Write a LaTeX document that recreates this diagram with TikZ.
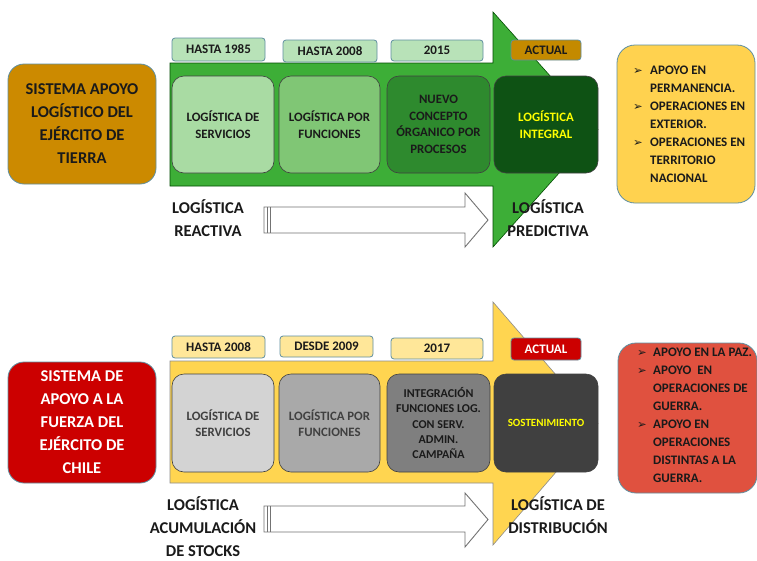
\documentclass[tikz,border=0pt]{standalone}
\usepackage{fontspec}
\setmainfont{Carlito}
\newfontfamily\dv{DejaVu Sans}
\definecolor{orgbox}{HTML}{CC8A00}
\definecolor{garrow}{HTML}{3DAE37}
\definecolor{gtab}{HTML}{B8E2B8}
\definecolor{gone}{HTML}{A9DBA3}
\definecolor{gtwo}{HTML}{80C675}
\definecolor{gthree}{HTML}{2E8A2E}
\definecolor{gfour}{HTML}{0E5214}
\definecolor{actorg}{HTML}{C48A00}
\definecolor{ybox}{HTML}{FFD24F}
\definecolor{yarrow}{HTML}{FFD550}
\definecolor{ytab}{HTML}{FFE799}
\definecolor{redbox}{HTML}{CC0000}
\definecolor{rbox}{HTML}{E0513F}
\definecolor{kone}{HTML}{D3D3D3}
\definecolor{ktwo}{HTML}{A9A9A9}
\definecolor{kthree}{HTML}{7F7F7F}
\definecolor{kfour}{HTML}{404040}
\definecolor{tabedge}{HTML}{5F8FA0}
\definecolor{txt}{HTML}{1A1A1A}
\definecolor{ylw}{HTML}{FFFF00}
\newcommand{\blt}[1]{\makebox[#1][l]{\dv\fontsize{11.5}{18}\selectfont ➢}}
\begin{document}
\begin{tikzpicture}[x=1pt,y=-1pt,
  tabbox/.style={draw=tabedge, line width=0.8pt, rounded corners=3pt, inner sep=0pt, text=txt, font=\fontsize{13}{15}\selectfont\bfseries},
  inbox/.style={draw=black!75, line width=0.6pt, rounded corners=12pt, inner sep=0pt, minimum height=97pt, align=center, text=txt, font=\fontsize{12.8}{16.5}\selectfont\bfseries},
  sysbox/.style={draw=tabedge, line width=0.8pt, rounded corners=16pt, inner sep=0pt, minimum width=148pt, align=center, font=\fontsize{16.5}{23}\selectfont\bfseries},
  biglabel/.style={align=center, inner sep=0pt, text=txt, font=\fontsize{16.5}{23}\selectfont\bfseries},
  listbox/.style={draw=tabedge, line width=0.8pt, rounded corners=18pt, inner sep=0pt, text=txt},
  listtext/.style={align=left, inner sep=0pt, text=txt, font=\fontsize{13}{18}\selectfont\bfseries},
  warrow/.style={draw=black!55, line width=0.9pt, fill=white}
]
\useasboundingbox (0,0) rectangle (757,560);
\fill[white] (0,0) rectangle (757,560);

% ===== TOP =====
\filldraw[fill=garrow, draw=green!30!black, line width=0.6pt]
  (170,63) -- (493,63) -- (493,12) -- (598,129.5) -- (493,247) -- (493,186) -- (170,186) -- cycle;

\node[sysbox, fill=orgbox, minimum height=120pt, text=txt] (sysA) at (82,124) {SISTEMA APOYO\\LOGÍSTICO DEL\\EJÉRCITO DE\\TIERRA};

\node[tabbox, fill=gtab, minimum width=93pt, minimum height=23pt] (tA1) at (218.5,49.5) {HASTA 1985};
\node[tabbox, fill=gtab, minimum width=94pt, minimum height=22pt] (tA2) at (330,51) {HASTA 2008};
\node[tabbox, fill=gtab, minimum width=92pt, minimum height=21pt] (tA3) at (437,50.5) {2015};
\node[tabbox, fill=actorg, minimum width=70pt, minimum height=20pt] (tA4) at (546,50) {ACTUAL};

\node[inbox, fill=gone, minimum width=102pt] (bA1) at (223,124.5) {LOGÍSTICA DE\\SERVICIOS};
\node[inbox, fill=gtwo, minimum width=101pt] (bA2) at (329.5,124.5) {LOGÍSTICA POR\\FUNCIONES};
\node[inbox, fill=gthree, minimum width=103pt] (bA3) at (438.5,124.5) {NUEVO\\CONCEPTO\\ÓRGANICO POR\\PROCESOS};
\node[inbox, fill=gfour, minimum width=104pt, text=ylw] (bA4) at (546,124.5) {LOGÍSTICA\\INTEGRAL};

\draw[warrow] (264,207) -- (465,207) -- (465,193) -- (488,220) -- (465,247) -- (465,233) -- (264,233) -- cycle;
\draw[black!55, line width=0.8pt] (267,207) -- (267,233) (270,207) -- (270,233);

\node[biglabel] (lA1) at (208,218.5) {LOGÍSTICA\\REACTIVA};
\node[biglabel] (lA2) at (548,218.5) {LOGÍSTICA\\PREDICTIVA};

\path[listbox, fill=ybox] (617,45) rectangle (755,203);
\node[listtext, anchor=north west] (listA) at (633,66) {%
\blt{17pt}APOYO EN\\
\hspace*{17pt}PERMANENCIA.\\
\blt{17pt}OPERACIONES EN\\
\hspace*{17pt}EXTERIOR.\\
\blt{17pt}OPERACIONES EN\\
\hspace*{17pt}TERRITORIO\\
\hspace*{17pt}NACIONAL};

% ===== BOTTOM =====
\filldraw[fill=yarrow, draw=black!45, line width=0.6pt]
  (170,361) -- (493,361) -- (493,302) -- (598,423.5) -- (493,545) -- (493,483) -- (170,483) -- cycle;

\node[sysbox, fill=redbox, minimum height=121pt, text=white] (sysB) at (82,422.5) {SISTEMA DE\\APOYO A LA\\FUERZA DEL\\EJÉRCITO DE\\CHILE};

\node[tabbox, fill=ytab, minimum width=93pt, minimum height=22pt] (tB1) at (218.5,347) {HASTA 2008};
\node[tabbox, fill=ytab, minimum width=93pt, minimum height=21pt] (tB2) at (326.5,346.5) {DESDE 2009};
\node[tabbox, fill=ytab, minimum width=92pt, minimum height=21pt] (tB3) at (437,348.5) {2017};
\node[tabbox, fill=redbox, minimum width=70pt, minimum height=22pt, text=white] (tB4) at (546,349) {ACTUAL};

\node[inbox, fill=kone, minimum width=102pt, minimum height=98pt, text=black!75] (bB1) at (223,423) {LOGÍSTICA DE\\SERVICIOS};
\node[inbox, fill=ktwo, minimum width=101pt, minimum height=98pt, text=black!75] (bB2) at (329.5,423) {LOGÍSTICA POR\\FUNCIONES};
\node[inbox, fill=kthree, minimum width=103pt, minimum height=98pt, font=\fontsize{12}{15.4}\selectfont\bfseries] (bB3) at (438.5,423) {INTEGRACIÓN\\FUNCIONES LOG.\\CON SERV.\\ADMIN.\\CAMPAÑA};
\node[inbox, fill=kfour, minimum width=104pt, minimum height=98pt, text=ylw, font=\fontsize{11}{14}\selectfont\bfseries] (bB4) at (546,423) {SOSTENIMIENTO};

\draw[warrow] (264,506) -- (465,506) -- (465,493) -- (488,519.5) -- (465,547) -- (465,532) -- (264,532) -- cycle;
\draw[black!55, line width=0.8pt] (267,506) -- (267,532) (270,506) -- (270,532);

\node[biglabel] (lB1) at (203,527) {LOGÍSTICA\\ACUMULACIÓN\\DE STOCKS};
\node[biglabel] (lB2) at (558,515) {LOGÍSTICA DE\\DISTRIBUCIÓN};

\path[listbox, fill=rbox] (618,343) rectangle (757,493);
\node[listtext, anchor=north west] (listB) at (637,348) {%
\blt{16pt}APOYO EN LA PAZ.\\
\blt{16pt}APOYO\ \ EN\\
\hspace*{16pt}OPERACIONES DE\\
\hspace*{16pt}GUERRA.\\
\blt{16pt}APOYO EN\\
\hspace*{16pt}OPERACIONES\\
\hspace*{16pt}DISTINTAS A LA\\
\hspace*{16pt}GUERRA.};
\end{tikzpicture}
\end{document}
